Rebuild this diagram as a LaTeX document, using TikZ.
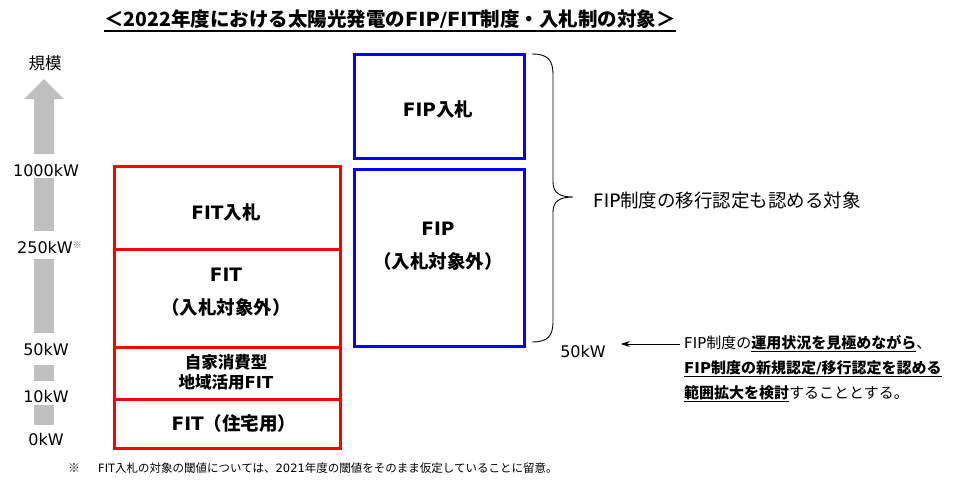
\documentclass[tikz,border=0pt]{standalone}
\usepackage{fontspec}
\setmainfont{DejaVu Sans}
\newfontfamily\jp{Noto Sans CJK JP}
\usetikzlibrary{arrows.meta}
\definecolor{arrowgray}{RGB}{191,191,191}
\definecolor{boxred}{RGB}{255,0,0}
\definecolor{boxblue}{RGB}{0,0,255}
\newcommand\ulx[1]{\setbox0\hbox{#1}\rlap{\rule[-3.5pt]{\wd0}{1.1pt}}\box0}
\begin{document}
\begin{tikzpicture}[x=1pt,y=-1pt,
  redbox/.style={draw=boxred,line width=2.6pt,inner sep=0pt,anchor=north west},
  bluebox/.style={draw=boxblue,line width=2.6pt,inner sep=0pt,anchor=north west},
  kw/.style={font=\fontsize{16}{16}\selectfont,inner sep=0pt},
  boxtxt/.style={font=\fontsize{18.5}{33}\selectfont\bfseries,inner sep=0pt,align=center},
  smalltxt/.style={font=\fontsize{16.5}{20}\selectfont\bfseries,inner sep=0pt,align=center},
  note/.style={font=\fontsize{15}{15}\selectfont,inner sep=0pt,anchor=west},
  grayseg/.style={fill=arrowgray}]
\useasboundingbox (0,0) rectangle (965,480);

% title
\node[inner sep=0pt,font=\fontsize{19.5}{19.5}\selectfont\bfseries] (title) at (390,19)
  {{\jp ＜2022年度における太陽光発電の}FIP/FIT{\jp 制度・入札制の対象＞}};
\draw[line width=1.3pt] (title.south west |- 0,31) -- (title.south east |- 0,31);

% scale arrow
\node[font=\jp\fontsize{16.5}{16.5}\selectfont,inner sep=0pt] (scale) at (45,63) {規模};
\fill[grayseg] (34,154) -- (34,99) -- (24,99) -- (44,79) -- (64,99) -- (54,99) -- (54,154) -- cycle;
\fill[grayseg] (34,178) rectangle (54,231);
\fill[grayseg] (34,259) rectangle (54,333);
\fill[grayseg] (34,365) rectangle (54,381);
\fill[grayseg] (34,405) rectangle (54,425);
\node[kw] (k1000) at (46,171) {1000kW};
\node[kw,anchor=west] (k250) at (17,248) {250kW{\jp\fontsize{9}{9}\selectfont\raisebox{5pt}{\color{black!60}※}}};
\node[kw] (k50) at (46,350) {50kW};
\node[kw] (k10) at (46,397) {10kW};
\node[kw] (k0) at (46,440) {0kW};

% red boxes
\node[redbox,minimum width=226pt,minimum height=83pt] (r1) at (113,165) {};
\node[redbox,minimum width=226pt,minimum height=98pt] (r2) at (113,248) {};
\node[redbox,minimum width=226pt,minimum height=52pt] (r3) at (113,346) {};
\node[redbox,minimum width=226pt,minimum height=49pt] (r4) at (113,398) {};
\node[boxtxt] (t1) at (226,212) {FIT{\jp 入札}};
\node[boxtxt] (t2) at (226,292.5) {FIT\\{\jp （入札対象外）}};
\node[smalltxt] (t3) at (226,372) {{\jp 自家消費型}\\{\jp 地域活用}FIT};
\node[boxtxt] (t4) at (234,423) {FIT{\jp （住宅用）}};

% blue boxes
\node[bluebox,minimum width=170pt,minimum height=104pt] (b1) at (353,53) {};
\node[bluebox,minimum width=170pt,minimum height=177pt] (b2) at (353,168) {};
\node[boxtxt] (u1) at (438,109) {FIP{\jp 入札}};
\node[boxtxt] (u2) at (438,246) {FIP\\{\jp （入札対象外）}};

% brace
\draw[line width=0.9pt] (532,54) .. controls (548,54) and (553,60) .. (553,75)
  -- (553,182) .. controls (553,193) and (560,197) .. (573,197)
  .. controls (560,197) and (553,201) .. (553,212)
  -- (553,321) .. controls (553,336) and (548,342) .. (532,342);
\node[font=\fontsize{18.5}{18.5}\selectfont,inner sep=0pt,anchor=west] (target) at (593,200)
  {FIP{\jp 制度の移行認定も認める対象}};

% 50kW note
\node[kw] (fifty) at (583,352) {50kW};
\node[note] (l1) at (684,344) {FIP{\jp 制度の}\ulx{\jp\bfseries 運用状況を見極めながら}{\jp 、}};
\node[note] (l2) at (684,369) {\ulx{\bfseries FIP{\jp 制度の新規認定}/{\jp 移行認定を認める}}};
\node[note] (l3) at (684,394) {\ulx{\jp\bfseries 範囲拡大を検討}{\jp することとする。}};
\draw[line width=0.9pt,-{Stealth[length=9pt,width=6pt]},shorten <=4pt,shorten >=15pt]
  (l1.west) -- (l1.west -| fifty.east);

% footnote
\node[inner sep=0pt,font=\jp\fontsize{12}{12}\selectfont] (mark) at (74,468) {※};
\node[inner sep=0pt,anchor=west,font=\fontsize{11.5}{11.5}\selectfont] (foot) at (98,468)
  {FIT{\jp 入札の対象の閾値については、}2021{\jp 年度の閾値をそのまま仮定していることに留意。}};
\end{tikzpicture}
\end{document}
